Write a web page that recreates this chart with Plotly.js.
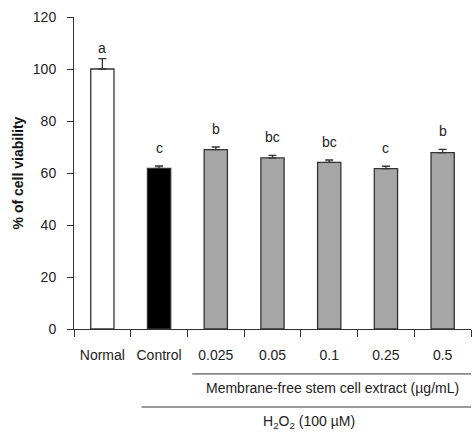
<!DOCTYPE html>
<html>
<head>
<meta charset="utf-8">
<script src="https://cdn.plot.ly/plotly-3.0.1.min.js"></script>
<style>html,body{margin:0;padding:0;background:#fff;}#chart{width:473px;height:432px;}</style>
</head>
<body>
<div id="chart"></div>
<script>
// Data
const categories = ["Normal", "Control", "0.025", "0.05", "0.1", "0.25", "0.5"];
const viability = [100, 61.8, 69.0, 65.8, 64.1, 61.7, 67.8];
const errorUp = [4.0, 0.9, 1.0, 1.0, 0.9, 0.9, 1.3];
const sigLetters = ["a", "c", "b", "bc", "bc", "c", "b"];
const barColors = ["#ffffff", "#000000", "#a6a6a6", "#a6a6a6", "#a6a6a6", "#a6a6a6", "#a6a6a6"];
const yTicks = [0, 20, 40, 60, 80, 100, 120];
const extractLabel = "Membrane-free stem cell extract (µg/mL)";
const treatmentLabel = "H<sub>2</sub>O<sub>2</sub> (100 µM)";
const yTitle = "<b>% of cell viability</b>";

const font = {family: "'Liberation Sans', Arial, sans-serif", size: 14, color: "#222"};

const trace = {
  type: "bar",
  x: categories,
  y: viability,
  width: 0.41,
  marker: {color: barColors, line: {color: "#333", width: 1.3}},
  error_y: {type: "data", symmetric: false, array: errorUp, arrayminus: errorUp.map(() => 0),
            color: "#333", thickness: 1.3, width: 4},
  hoverinfo: "skip"
};

const annotations = categories.map((c, i) => ({
  x: i, y: viability[i] + errorUp[i], xref: "x", yref: "y",
  text: sigLetters[i], showarrow: false, yanchor: "bottom",
  yshift: i === 0 ? 1 : 8, font: font
}));
annotations.push({
  x: 0.651, y: -0.189, xref: "paper", yref: "paper", text: extractLabel,
  showarrow: false, xanchor: "center", yanchor: "middle", font: font
});
annotations.push({
  x: 0.593, y: -0.298, xref: "paper", yref: "paper", text: treatmentLabel,
  showarrow: false, xanchor: "center", yanchor: "middle", font: font
});

const layout = {
  width: 473, height: 432,
  margin: {l: 74, r: 2, t: 17, b: 103},
  paper_bgcolor: "#fff", plot_bgcolor: "#fff",
  font: font,
  showlegend: false,
  bargap: 0.59,
  xaxis: {
    type: "category", range: [-0.5, 6.5],
    showline: true, linecolor: "#333", linewidth: 1,
    ticks: "outside", tickson: "boundaries", ticklen: 7, tickcolor: "#333", tickwidth: 1,
    ticklabelstandoff: 13,
    showgrid: false, zeroline: false, fixedrange: true,
    tickfont: font
  },
  yaxis: {
    range: [0, 120], tickvals: yTicks, ticktext: yTicks.map(String),
    showline: true, linecolor: "#333", linewidth: 1,
    ticks: "outside", ticklen: 6, tickcolor: "#333", tickwidth: 1,
    ticklabelstandoff: 8,
    showgrid: false, zeroline: false, fixedrange: true,
    tickfont: font,
    title: {text: yTitle, font: {family: font.family, size: 14, color: "#111"}, standoff: 5}
  },
  shapes: [
    {type: "line", xref: "paper", yref: "paper", x0: 0.298, x1: 1.0, y0: -0.144, y1: -0.144,
     line: {color: "#333", width: 1}},
    {type: "line", xref: "paper", yref: "paper", x0: 0.17, x1: 1.0, y0: -0.25, y1: -0.25,
     line: {color: "#333", width: 1}}
  ],
  annotations: annotations
};

Plotly.newPlot("chart", [trace], layout, {displayModeBar: false, staticPlot: true});
</script>
</body>
</html>
